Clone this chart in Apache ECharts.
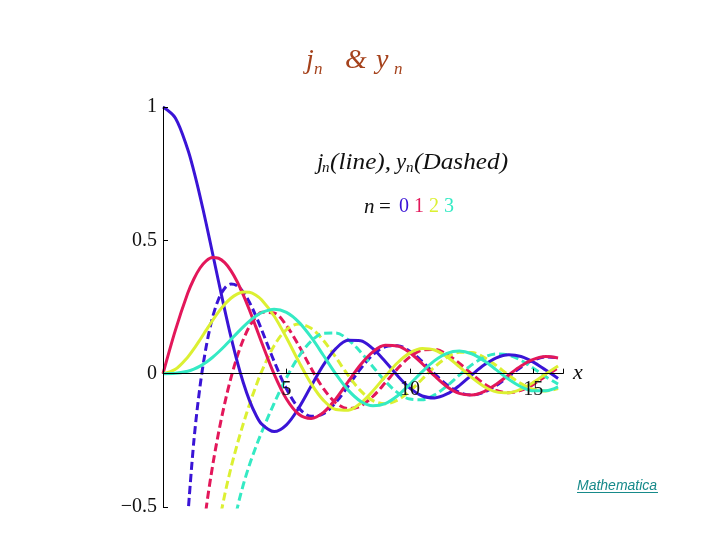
<!DOCTYPE html>
<html><head><meta charset="utf-8">
<script src="https://cdn.jsdelivr.net/npm/echarts@6/dist/echarts.min.js"></script>
<style>html,body{margin:0;padding:0;background:#fff}#c{width:720px;height:540px}</style>
</head><body><div id="c"></div>
<script>
// sample positions along x
const xs = [0,0.5,1,1.25,1.5,1.75,2,2.25,2.5,2.75,3,3.25,3.5,3.75,4,4.5,5,5.5,6,6.5,7,7.5,8,8.5,9,9.5,10,10.5,11,11.5,12,12.5,13,13.5,14,14.5,15,15.5,16];

// j_n (solid lines)
const j0 = [1,0.9589,0.8415,0.7592,0.6650,0.5623,0.4546,0.3458,0.2394,0.1388,0.0470,-0.0333,-0.1002,-0.1524,-0.1892,-0.2172,-0.1918,-0.1283,-0.0466,0.0331,0.0939,0.1251,0.1237,0.0939,0.0458,-0.0079,-0.0544,-0.0838,-0.0909,-0.0761,-0.0447,-0.0053,0.0323,0.0595,0.0708,0.0645,0.0434,0.0133,-0.0180];
const j1 = [0,0.1625,0.3012,0.3551,0.3962,0.4232,0.4354,0.4329,0.4162,0.3866,0.3457,0.2957,0.2389,0.1782,0.1161,-0.0014,-0.0951,-0.1522,-0.1678,-0.1452,-0.0943,-0.0295,0.0337,0.0819,0.1063,0.1041,0.0785,0.0373,-0.0087,-0.0487,-0.0741,-0.0802,-0.0673,-0.0397,-0.0047,0.0289,0.0535,0.0640,0.0587];
const j2 = [0,0.0164,0.0620,0.0930,0.1273,0.1631,0.1985,0.2314,0.2601,0.2829,0.2986,0.3062,0.3050,0.2950,0.2763,0.2163,0.1347,0.0453,-0.0373,-0.1001,-0.1343,-0.1369,-0.1111,-0.0650,-0.0104,0.0408,0.0779,0.0944,0.0886,0.0634,0.0262,-0.0140,-0.0479,-0.0684,-0.0718,-0.0585,-0.0326,-0.0009,0.0290];
const j3 = [0,0.0012,0.0090,0.0170,0.0283,0.0429,0.0607,0.0813,0.1039,0.1278,0.1521,0.1754,0.1968,0.2151,0.2292,0.2417,0.2298,0.1933,0.1367,0.0682,-0.0016,-0.0617,-0.1031,-0.1201,-0.1121,-0.0827,-0.0395,0.0077,0.0489,0.0762,0.0850,0.0747,0.0489,0.0144,-0.0209,-0.0491,-0.0644,-0.0643,-0.0497];

// y_n (dashed lines), null where the curve lies far below the plot
const y0 = [null,null,-0.5403,-0.2523,-0.0472,0.1019,0.2081,0.2792,0.3205,0.3361,0.3300,0.3059,0.2676,0.2188,0.1634,0.0468,-0.0567,-0.1289,-0.1600,-0.1502,-0.1077,-0.0462,0.0182,0.0708,0.1012,0.1050,0.0839,0.0453,-0.0004,-0.0420,-0.0703,-0.0798,-0.0698,-0.0441,-0.0098,0.0245,0.0507,0.0631,0.0599];
const y1 = [null,null,null,-0.9610,-0.6964,-0.5041,-0.3506,-0.2217,-0.1112,-0.0166,0.0630,0.1274,0.1767,0.2108,0.2301,0.2276,0.1804,0.1049,0.0199,-0.0562,-0.1093,-0.1312,-0.1214,-0.0856,-0.0345,0.0190,0.0628,0.0881,0.0909,0.0725,0.0389,-0.0011,-0.0377,-0.0628,-0.0715,-0.0628,-0.0400,-0.0093,0.0217];
const y2 = [null,null,null,null,null,-0.9660,-0.7340,-0.5748,-0.4539,-0.3542,-0.2670,-0.1883,-0.1161,-0.0502,0.0091,0.1049,0.1650,0.1860,0.1700,0.1243,0.0609,-0.0063,-0.0637,-0.1011,-0.1128,-0.0990,-0.0651,-0.0201,0.0252,0.0609,0.0800,0.0796,0.0611,0.0301,-0.0055,-0.0375,-0.0586,-0.0649,-0.0558];
const y3 = [null,null,null,null,null,null,null,-1.0557,-0.7966,-0.6274,-0.5080,-0.4171,-0.3426,-0.2777,-0.2186,-0.1111,-0.0154,0.0643,0.1218,0.1518,0.1527,0.1271,0.0816,0.0262,-0.0281,-0.0711,-0.0953,-0.0977,-0.0794,-0.0460,-0.0055,0.0329,0.0612,0.0740,0.0695,0.0499,0.0204,-0.0117,-0.0392];

const xTickLabels = [5, 10, 15];
const yTickLabels = [-0.5, 0, 0.5, 1];
const orders = ['0', '1', '2', '3'];
const colors = ['#3a14d6', '#e3175a', '#dcf032', '#34eac4'];

const J = [j0, j1, j2, j3];
const Y = [y0, y1, y2, y3];
const toPairs = arr => xs.map((x, i) => [x, arr[i] === null ? '-' : arr[i]]);

const series = [];
J.forEach((arr, n) => series.push({
  type: 'line', data: toPairs(arr), showSymbol: false, smooth: 0.33, clip: true,
  lineStyle: { width: 3, color: colors[n], type: 'solid' }, z: 3
}));
Y.forEach((arr, n) => series.push({
  type: 'line', data: toPairs(arr), showSymbol: false, smooth: 0.33, clip: true,
  lineStyle: { width: 3, color: colors[n], type: [8, 4] }, z: 2
}));

const serif = '"Liberation Serif", "Times New Roman", serif';
const titleColor = '#a5421c';
// text helper: (x, top, text, font, colour, horizontal stretch)
const T = (x, y, text, font, fill, sx) => ({
  type: 'text', x: x, y: y, scaleX: sx || 1,
  style: { x: 0, y: 0, text: text, font: font, fill: fill, verticalAlign: 'top', align: 'left' }
});

const graphics = [
  // title j_n & y_n
  T(306, 47, 'j', 'italic 28px ' + serif, titleColor),
  T(314, 61, 'n', 'italic 17px ' + serif, titleColor),
  T(345, 47, '&', 'italic 28px ' + serif, titleColor),
  T(376, 47, 'y', 'italic 28px ' + serif, titleColor),
  T(394, 61, 'n', 'italic 17px ' + serif, titleColor),
  // j_n(line), y_n(Dashed)
  T(317, 151, 'j', 'italic 23px ' + serif, '#111'),
  T(322, 161, 'n', 'italic 15px ' + serif, '#111'),
  T(330, 151, '(line),', 'italic 23px ' + serif, '#111', 1.1),
  T(396, 151, 'y', 'italic 23px ' + serif, '#111'),
  T(406, 161, 'n', 'italic 15px ' + serif, '#111'),
  T(414, 151, '(Dashed)', 'italic 23px ' + serif, '#111', 1.1),
  // n = 0 1 2 3
  T(364, 197, 'n', 'italic 21px ' + serif, '#111'),
  T(379, 197, '=', '21px ' + serif, '#111')
];
orders.forEach((t, n) => graphics.push(T(399 + n * 15, 197, t, '20px ' + serif, colors[n])));
graphics.push(
  T(577, 479, 'Mathematica', 'italic 14px "Liberation Sans", Arial, sans-serif', '#178a8a'),
  { type: 'line', shape: { x1: 577, y1: 492.5, x2: 658, y2: 492.5 }, style: { stroke: '#178a8a', lineWidth: 1 } }
);

const chart = echarts.init(document.getElementById('c'), null, { renderer: 'canvas' });
chart.setOption({
  animation: false,
  backgroundColor: '#ffffff',
  grid: { left: 163, top: 107, width: 400, height: 400, containLabel: false },
  xAxis: {
    type: 'value', min: 0, max: 16.2, interval: 5, z: 10,
    offset: -400 / 1.5 * 0.5,
    name: 'x', nameLocation: 'end', nameGap: 10,
    nameTextStyle: { fontFamily: serif, fontStyle: 'italic', fontSize: 22, color: '#111', verticalAlign: 'middle' },
    axisLine: { onZero: false, lineStyle: { color: '#000', width: 1 } },
    axisTick: { inside: true, length: 5, lineStyle: { color: '#000' } },
    axisLabel: {
      margin: 6, fontFamily: serif, fontSize: 20, color: '#111',
      formatter: v => xTickLabels.indexOf(v) >= 0 ? String(v) : ''
    },
    splitLine: { show: false }
  },
  yAxis: {
    type: 'value', min: -0.5, max: 1, interval: 0.5, z: 10,
    axisLine: { show: true, onZero: false, lineStyle: { color: '#000', width: 1 } },
    axisTick: { show: true, inside: true, length: 5, lineStyle: { color: '#000' } },
    axisLabel: {
      margin: 6, fontFamily: serif, fontSize: 20, color: '#111',
      formatter: v => yTickLabels.indexOf(v) >= 0 ? (v < 0 ? '\u2212' + String(-v) : String(v)) : ''
    },
    splitLine: { show: false }
  },
  series: series,
  graphic: graphics
});
</script>
</body></html>
